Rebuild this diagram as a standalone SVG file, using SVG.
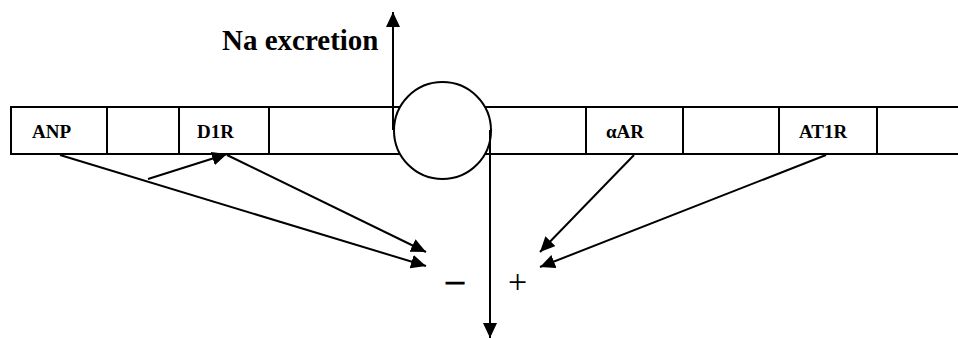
<svg xmlns="http://www.w3.org/2000/svg" width="958" height="338" viewBox="0 0 958 338">
<style>
.cell{fill:#fff;stroke:#000;stroke-width:2}
.lbl{font-family:'Liberation Serif',serif;font-weight:bold;font-size:19px;fill:#000}
.title{font-family:'Liberation Serif',serif;font-weight:bold;font-size:29px;fill:#000}
.sign{font-family:'Liberation Serif',serif;fill:#000}
.conn{stroke:#000;stroke-width:2;fill:none;marker-end:url(#ah)}
</style>
<defs>
<marker id="ah" markerUnits="userSpaceOnUse" markerWidth="16" markerHeight="14" refX="15" refY="7" orient="auto">
<path d="M0,0 L15,7 L0,14 Z" fill="#000"/>
</marker>
</defs>
<rect width="958" height="338" fill="#fff"/>
<g id="bar">
<rect class="cell" x="11" y="107" width="96" height="47"/>
<rect class="cell" x="107" y="107" width="72" height="47"/>
<rect class="cell" x="179" y="107" width="90" height="47"/>
<rect class="cell" x="269" y="107" width="140" height="47"/>
<rect class="cell" x="476" y="107" width="110" height="47"/>
<rect class="cell" x="586" y="107" width="97" height="47"/>
<rect class="cell" x="683" y="107" width="96" height="47"/>
<rect class="cell" x="779" y="107" width="98" height="47"/>
<rect class="cell" x="877" y="107" width="90" height="47"/>
</g>
<g id="anp"><text class="lbl" x="32" y="138">ANP</text></g>
<g id="d1r"><text class="lbl" x="197" y="138">D1R</text></g>
<g id="aar"><text class="lbl" x="606" y="138">αAR</text></g>
<g id="at1r"><text class="lbl" x="799" y="138">AT1R</text></g>
<g id="channel"><circle cx="442.5" cy="130.5" r="48.5" fill="#fff" stroke="#000" stroke-width="2"/></g>
<g id="na-excretion"><text class="title" x="222" y="50">Na excretion</text></g>
<g id="minus"><text class="sign" x="444" y="296" font-size="39" stroke="#000" stroke-width="0.8">−</text></g>
<g id="plus"><text class="sign" x="508" y="293" font-size="34">+</text></g>
<g id="connectors">
<line class="conn" x1="393" y1="130" x2="393" y2="12"/>
<line class="conn" x1="490" y1="130" x2="490" y2="338"/>
<line class="conn" x1="60" y1="155" x2="426" y2="266"/>
<line class="conn" x1="148" y1="179" x2="227" y2="154"/>
<line class="conn" x1="227" y1="155" x2="426" y2="252"/>
<line class="conn" x1="634" y1="155" x2="540" y2="252"/>
<line class="conn" x1="826" y1="155" x2="540" y2="267"/>
</g>
</svg>
